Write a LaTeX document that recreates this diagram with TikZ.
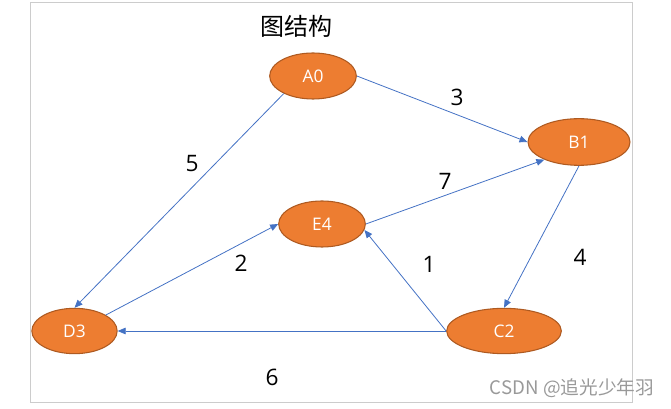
\documentclass[tikz,border=0pt]{standalone}
\usepackage{fontspec}
\setmainfont{Open Sans}
\newfontfamily\cjk{Noto Sans CJK SC}
\usetikzlibrary{arrows.meta,shapes.geometric}
\definecolor{vfill}{HTML}{ED7D31}
\definecolor{vline}{HTML}{AE5A21}
\definecolor{eline}{HTML}{4472C4}
\definecolor{framecol}{HTML}{CCCCCC}
\tikzset{
  vertex/.style={ellipse, draw=vline, fill=vfill, line width=0.8pt, inner sep=0pt,
    text=white, font=\fontsize{13}{15}\selectfont},
  edge/.style={eline, line width=0.6pt, -{Triangle[length=6pt,width=5pt]}},
  weight/.style={font=\fontsize{17}{20}\selectfont}
}
\begin{document}
\begin{tikzpicture}[x=0.75pt, y=-0.75pt]
  \useasboundingbox (0,0) rectangle (671,409);
  \draw[framecol, line width=0.75pt] (30,3) rectangle (632,403);
  \node (title) at (296,26) {\cjk\fontsize{18}{20}\selectfont 图结构};
  % vertices
  \node[vertex, minimum width=65pt, minimum height=34.5pt] (A0) at (313,76) {A0};
  \node[vertex, minimum width=76.5pt, minimum height=35pt] (B1) at (579,142) {B1};
  \node[vertex, minimum width=65pt, minimum height=34.5pt] (E4) at (322,224) {E4};
  \node[vertex, minimum width=64pt, minimum height=34pt] (D3) at (74.5,331) {D3};
  \node[vertex, minimum width=86pt, minimum height=34pt] (C2) at (504,331) {C2};
  % edges
  \foreach \s/\t in {A0.east/B1.west, A0.211/D3.north, B1.south/C2.north,
                     E4.east/B1.207, D3.27/E4.west, C2.west/E4.-8, C2.west/D3.east}
    \draw[edge] (\s) -- (\t);
  % weights
  \foreach \n/\x/\y/\w in {w3/457/97/3, w5/192/164/5, w7/445/181/7, w2/241/263/2,
                           w1/429/264/1, w4/580/257/4, w6/272/377/6}
    \node[weight] (\n) at (\x,\y) {\w};
  \node[text=gray!80, font=\fontsize{14}{16}\selectfont] (mark) at (572,388)
    {\cjk CSDN @追光少年羽};
\end{tikzpicture}
\end{document}
